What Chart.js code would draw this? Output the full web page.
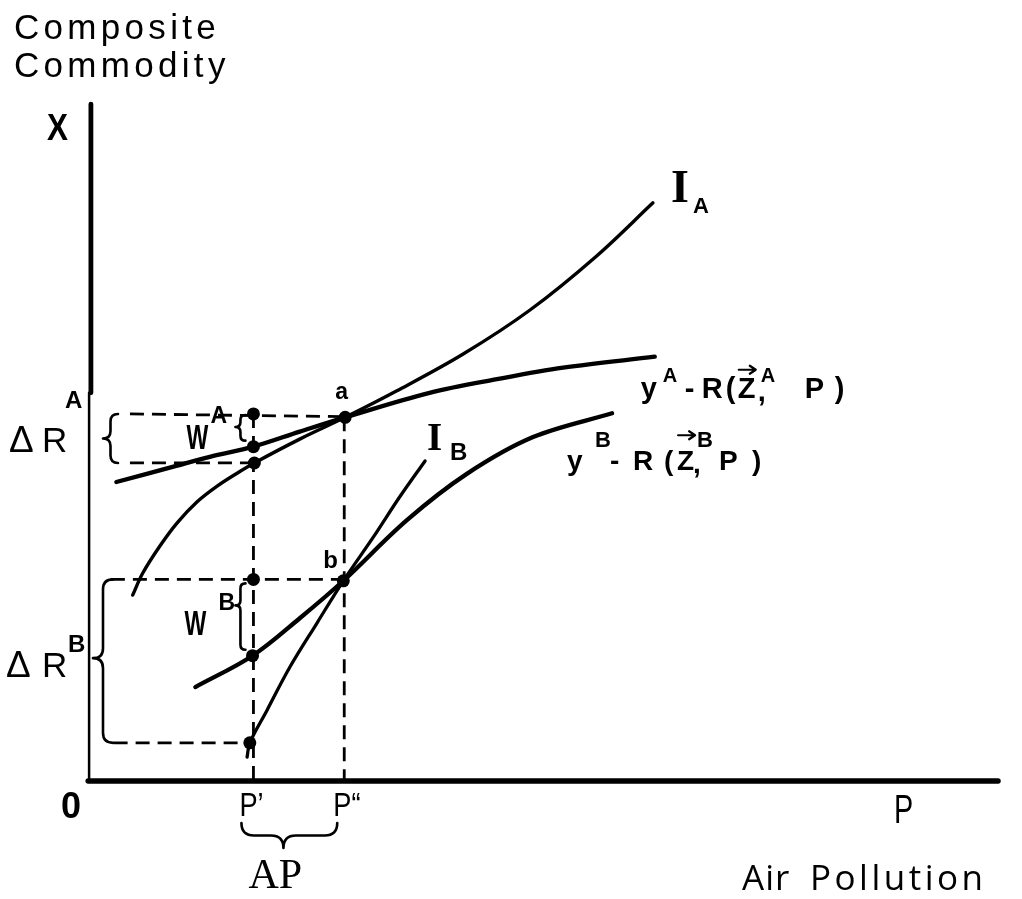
<!DOCTYPE html>
<html><head><meta charset="utf-8">
<script src="https://cdn.jsdelivr.net/npm/chart.js@4/dist/chart.umd.min.js"></script>
<style>html,body{margin:0;padding:0;background:#fff;overflow:hidden}canvas{display:block}</style>
</head><body>
<canvas id="c" width="1022" height="899"></canvas>
<script>
// ---- data (P = air pollution, X = composite commodity), arbitrary units 0..100 ----
const IA_P = [4.7, 5.8, 7.7, 9.6, 11.8, 14.0, 16.2, 18.1, 23.1, 28.1, 33.8, 41.1, 48.5, 55.8, 62.0];
const IA_X = [27.3, 30.5, 34.5, 37.9, 41.0, 43.3, 45.2, 46.7, 50.2, 53.4, 57.3, 62.7, 69.2, 77.1, 84.9];
const RA_P = [2.9, 9.6, 13.2, 18.0, 23.1, 28.1, 37.4, 44.8, 52.1, 62.2];
const RA_X = [43.9, 46.3, 47.6, 49.1, 51.3, 53.4, 57.0, 59.0, 60.7, 62.3];
const RB_P = [11.6, 17.9, 23.1, 27.9, 34.9, 41.5, 48.8, 57.5];
const RB_X = [13.8, 18.4, 23.9, 29.4, 38.3, 45.1, 50.5, 54.0];
const IB_P = [17.3, 17.6, 19.5, 22.0, 25.0, 27.9, 31.2, 34.1, 36.9];
const IB_X = [3.5, 5.6, 10.4, 16.7, 23.2, 29.4, 35.8, 41.7, 47.0];

// reference levels
const P_prime = 18.0, P_dprime = 28.0;
const level_WA = 53.9, level_a = 53.4, level_RAlow = 46.7, level_b = 29.6, level_RBlow = 5.6;
const guideStartA = 4.4, guideStartB = 2.3;

// marked points
const DOT_P = [18.0, 18.0, 18.1, 28.1, 18.0, 27.9, 17.9, 17.6];
const DOT_X = [53.9, 49.1, 46.7, 53.4, 29.6, 29.4, 18.4, 5.6];

const zip = (a, b) => a.map((v, i) => ({x: v, y: b[i]}));
const FONT = '"Liberation Sans", Arial, Helvetica, sans-serif';
const SERIF = '"Liberation Serif", "Times New Roman", serif';

function lineDS(data, w, dash, smooth) {
  return {data, showLine: true, borderColor: '#000', backgroundColor: '#000', borderWidth: w,
    borderDash: dash || [], pointRadius: 0, fill: false, clip: false,
    borderCapStyle: dash ? 'butt' : 'round', tension: smooth ? 0.35 : 0};
}
const D = [14, 8];
const datasets = [
  lineDS([{x: guideStartA, y: level_WA}, {x: P_dprime + 0.1, y: level_a + 0.1}], 2.8, D),
  lineDS([{x: guideStartA, y: level_RAlow}, {x: P_prime, y: level_RAlow}], 2.8, D),
  lineDS([{x: P_prime, y: level_WA}, {x: P_prime, y: 0}], 2.8, D),
  lineDS([{x: P_dprime, y: level_a}, {x: P_dprime, y: 0}], 2.8, D),
  lineDS([{x: guideStartB, y: level_b}, {x: P_dprime, y: level_b}], 2.8, D),
  lineDS([{x: guideStartB + 0.3, y: level_RBlow}, {x: P_prime, y: level_RBlow}], 2.8, D),
  lineDS(zip(IA_P, IA_X), 3.4, null, true),
  lineDS(zip(RA_P, RA_X), 4.3, null, true),
  lineDS(zip(RB_P, RB_X), 4.3, null, true),
  lineDS(zip(IB_P, IB_X), 3.3, null, true),
  lineDS([{x: -0.2, y: 0}, {x: 100, y: 0}], 5.5),
  lineDS([{x: 0.1, y: 57}, {x: 0.1, y: 99.4}], 4.8),
  lineDS([{x: -0.1, y: 0}, {x: -0.1, y: 57}], 2.5),
  {data: zip(DOT_P, DOT_X), showLine: false, pointRadius: 6.5, pointBackgroundColor: '#000',
   pointBorderColor: '#000', pointBorderWidth: 0, clip: false}
];

function T(ctx, s, x, y, font, opt) {
  opt = opt || {};
  ctx.save();
  ctx.font = font; ctx.fillStyle = '#000'; ctx.textBaseline = 'alphabetic'; ctx.textAlign = 'left';
  ctx.translate(x, y); ctx.scale(opt.sx || 1, 1);
  let cx = 0;
  for (const ch of s) { ctx.fillText(ch, cx, 0); cx += ctx.measureText(ch).width + (opt.sp || 0); }
  ctx.restore();
}
function braceV(ctx, xEnd, y1, y2, tipY, depth) {
  const xm = xEnd - depth / 2, xt = xEnd - depth;
  const r1 = Math.min(depth / 2, (tipY - y1) / 2), r2 = Math.min(depth / 2, (y2 - tipY) / 2);
  ctx.beginPath();
  ctx.moveTo(xEnd, y1);
  ctx.quadraticCurveTo(xm, y1, xm, y1 + r1);
  ctx.lineTo(xm, tipY - r1);
  ctx.quadraticCurveTo(xm, tipY, xt, tipY);
  ctx.quadraticCurveTo(xm, tipY, xm, tipY + r2);
  ctx.lineTo(xm, y2 - r2);
  ctx.quadraticCurveTo(xm, y2, xEnd, y2);
  ctx.stroke();
}
function braceH(ctx, x1, x2, yEnd, tipX, depth) {
  const ym = yEnd + depth / 2, yt = yEnd + depth;
  const r1 = Math.min(depth / 2, (tipX - x1) / 2), r2 = Math.min(depth / 2, (x2 - tipX) / 2);
  ctx.beginPath();
  ctx.moveTo(x1, yEnd);
  ctx.quadraticCurveTo(x1, ym, x1 + r1, ym);
  ctx.lineTo(tipX - r1, ym);
  ctx.quadraticCurveTo(tipX, ym, tipX, yt);
  ctx.quadraticCurveTo(tipX, ym, tipX + r2, ym);
  ctx.lineTo(x2 - r2, ym);
  ctx.quadraticCurveTo(x2, ym, x2, yEnd);
  ctx.stroke();
}
function arrow(ctx, x1, x2, y) {
  ctx.save(); ctx.lineWidth = 2.2;
  ctx.beginPath(); ctx.moveTo(x1, y); ctx.lineTo(x2, y);
  ctx.moveTo(x2 - 6, y - 4); ctx.lineTo(x2, y); ctx.lineTo(x2 - 6, y + 4); ctx.stroke();
  ctx.restore();
}
function formula(ctx, x0, b, sup, o, f, sf, supDy, arrowDy) {
  const fn = 'bold ' + f + 'px ' + FONT, sfn = 'bold ' + sf + 'px ' + FONT;
  T(ctx, 'y', x0 + o[0], b, fn);
  T(ctx, sup, x0 + o[1], b + supDy, sfn);
  T(ctx, '-', x0 + o[2], b, fn);
  T(ctx, 'R', x0 + o[3], b, fn);
  T(ctx, '(', x0 + o[4], b, fn);
  T(ctx, 'Z', x0 + o[5], b, fn);
  arrow(ctx, x0 + o[5] + 1, x0 + o[5] + 18, b + arrowDy);
  T(ctx, sup, x0 + o[6], b + supDy, sfn);
  T(ctx, ',', x0 + o[7], b + 3, fn);
  T(ctx, 'P', x0 + o[8], b, fn);
  T(ctx, ')', x0 + o[9], b, fn);
}

const annot = {
  id: 'annot',
  afterDatasetsDraw(chart) {
    const {ctx, chartArea: ca, scales} = chart;
    const X = v => scales.x.getPixelForValue(v), Y = v => scales.y.getPixelForValue(v);
    const L = ca.left, B = ca.bottom, TP = ca.top, R = ca.right;
    ctx.save();
    ctx.strokeStyle = '#000'; ctx.lineWidth = 2.6; ctx.lineCap = 'round'; ctx.lineJoin = 'round';

    // axis titles
    T(ctx, 'Composite', L - 76, TP - 61, '35px ' + FONT, {sp: 4.3});
    T(ctx, 'Commodity', L - 76, TP - 23, '35px ' + FONT, {sp: 4.3});
    T(ctx, 'X', L - 43, TP + 40, 'bold 37px ' + FONT, {sx: 0.85});
    T(ctx, '0', L - 29, B + 37, 'bold 36px ' + FONT);
    T(ctx, 'P\u2019', X(P_prime) - 14, B + 35, '34px ' + FONT, {sx: 0.8});
    T(ctx, 'P\u201C', X(P_dprime) - 11, B + 35, '34px ' + FONT, {sx: 0.8});
    T(ctx, 'P', R - 104, B + 42, '40px ' + FONT, {sx: 0.72});
    T(ctx, 'AP', X(P_prime) - 5, B + 107, '42px ' + SERIF);
    T(ctx, 'Air', R - 256, B + 109, '35px "Open Sans", ' + FONT, {sp: 1});
    T(ctx, 'Pollution', R - 188, B + 109, '35px "Open Sans", ' + FONT, {sp: 3.5});

    // AP brace
    braceH(ctx, X(P_prime) - 12, X(P_dprime) - 7, B + 42, X(P_prime) + 30, 25);

    // Delta R^A
    const midA = (Y(level_WA) + Y(level_RAlow)) / 2;
    T(ctx, '\u0394', L - 81, midA + 14, '37px ' + FONT);
    T(ctx, 'R', L - 48, midA + 14, '35px ' + FONT);
    T(ctx, 'A', L - 25, midA - 30, 'bold 24px ' + FONT);
    braceV(ctx, L + 28, Y(level_WA), Y(level_RAlow), midA, 15);

    // Delta R^B
    const midB = (Y(level_b) + Y(level_RBlow)) / 2;
    T(ctx, '\u0394', L - 84, midB + 16, '37px ' + FONT);
    T(ctx, 'R', L - 48, midB + 16, '35px ' + FONT);
    T(ctx, 'B', L - 22, midB - 9, 'bold 24px ' + FONT);
    braceV(ctx, L + 23, Y(level_b), Y(level_RBlow), midB - 3, 20);

    // W^A, W^B
    const xp = X(P_prime);
    T(ctx, 'W', xp - 67, Y(DOT_X[1]) + 2, 'bold 35px ' + FONT, {sx: 0.66});
    T(ctx, 'A', xp - 43, Y(level_WA) + 9, 'bold 23px ' + FONT);
    braceV(ctx, xp - 8, Y(level_WA) + 1, Y(DOT_X[1]) - 6, Y(level_WA) + 13, 10);
    T(ctx, 'W', xp - 69, Y(DOT_X[6]) - 21, 'bold 35px ' + FONT, {sx: 0.66});
    T(ctx, 'B', xp - 35, Y(level_b) + 31, 'bold 23px ' + FONT);
    braceV(ctx, xp - 8, Y(level_b) + 4, Y(DOT_X[6]) - 6, Y(level_b) + 26, 10);

    // a, b
    T(ctx, 'a', X(DOT_P[3]) - 10, Y(DOT_X[3]) - 18, 'bold 23px ' + FONT);
    T(ctx, 'b', X(DOT_P[5]) - 20, Y(DOT_X[5]) - 13, 'bold 24px ' + FONT);

    // I_A, I_B
    const ia = [X(IA_P[IA_P.length - 1]), Y(IA_X[IA_X.length - 1])];
    T(ctx, 'I', ia[0] + 18, ia[1] - 1, 'bold 46px ' + SERIF);
    T(ctx, 'A', ia[0] + 40, ia[1] + 10, 'bold 22px ' + FONT);
    const ib = [X(IB_P[IB_P.length - 1]), Y(IB_X[IB_X.length - 1])];
    T(ctx, 'I', ib[0] + 2, ib[1] - 11, 'bold 39px ' + SERIF);
    T(ctx, 'B', ib[0] + 25, ib[1] - 1, 'bold 24px ' + FONT);

    // budget-curve labels
    const ra = [X(RA_P[RA_P.length - 1]), Y(RA_X[RA_X.length - 1])];
    formula(ctx, ra[0] - 14, ra[1] + 41, 'A', [0, 22, 44, 61, 85, 97, 120, 117, 164, 194], 29, 20, -16, -28);
    const rb = [X(RB_P[RB_P.length - 1]), Y(RB_X[RB_X.length - 1])];
    formula(ctx, rb[0] - 45, rb[1] + 57, 'B', [0, 28, 43, 66, 97, 110, 130, 126, 152, 185], 28, 22, -23, -35);
    ctx.restore();
  }
};

new Chart(document.getElementById('c').getContext('2d'), {
  type: 'scatter',
  data: {datasets},
  options: {
    responsive: false, animation: false, events: [],
    layout: {padding: {left: 90, right: 24, top: 100, bottom: 118}},
    scales: {
      x: {type: 'linear', min: 0, max: 100, display: false},
      y: {type: 'linear', min: 0, max: 100, display: false}
    },
    plugins: {legend: {display: false}, tooltip: {enabled: false}}
  },
  plugins: [annot]
});
</script>
</body></html>
